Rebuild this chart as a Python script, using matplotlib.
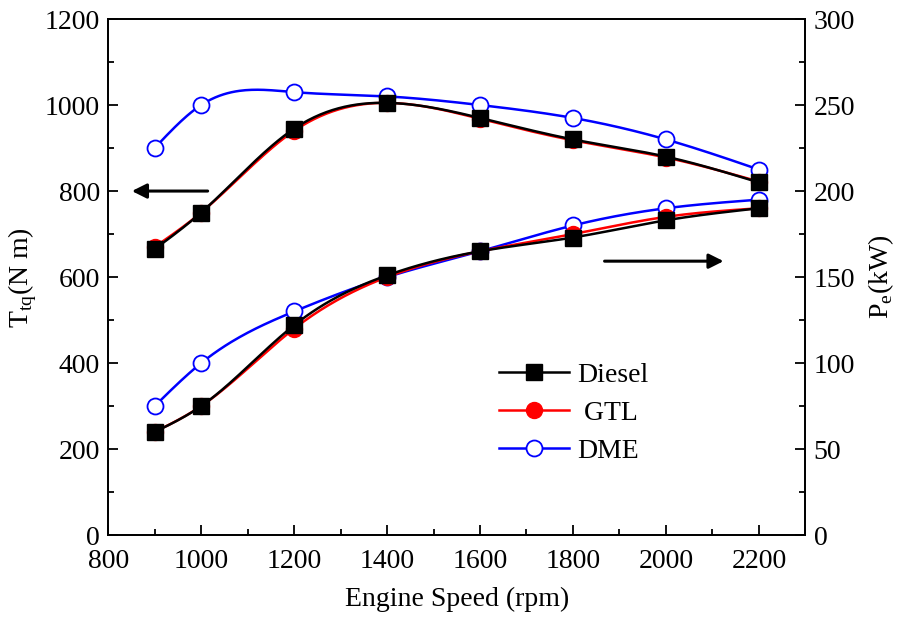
import numpy as np
import matplotlib
matplotlib.use("Agg")
import matplotlib.pyplot as plt
from matplotlib.ticker import MultipleLocator

plt.rcParams['font.family'] = ['Liberation Serif', 'DejaVu Serif']
plt.rcParams['mathtext.fontset'] = 'custom'
plt.rcParams['mathtext.rm'] = 'Liberation Serif'

speed = [900, 1000, 1200, 1400, 1600, 1800, 2000, 2200]

# torque (N m), left axis
tq_diesel = [665, 750, 945, 1005, 970, 920, 880, 820]
tq_gtl = [670, 750, 940, 1005, 968, 918, 878, 822]
tq_dme = [900, 1000, 1030, 1020, 1000, 970, 920, 850]

# power (kW), right axis
pe_diesel = [60, 75, 122, 151, 165, 173, 183, 190]
pe_gtl = [60, 75, 120, 150, 165, 175, 185, 190]
pe_dme = [75, 100, 130, 150, 165, 180, 190, 195]


def spline(x, y, n=300):
    # natural cubic spline, like Origin's smooth connect
    x = np.asarray(x, float)
    y = np.asarray(y, float)
    k = len(x)
    h = np.diff(x)
    A = np.zeros((k, k))
    r = np.zeros(k)
    A[0, 0] = A[-1, -1] = 1
    for i in range(1, k - 1):
        A[i, i - 1] = h[i - 1]
        A[i, i] = 2 * (h[i - 1] + h[i])
        A[i, i + 1] = h[i]
        r[i] = 6 * ((y[i + 1] - y[i]) / h[i] - (y[i] - y[i - 1]) / h[i - 1])
    m = np.linalg.solve(A, r)
    xs = np.linspace(x[0], x[-1], n)
    idx = np.clip(np.searchsorted(x, xs) - 1, 0, k - 2)
    x0, x1 = x[idx], x[idx + 1]
    hh = x1 - x0
    a = (x1 - xs) / hh
    b = (xs - x0) / hh
    ys = a * y[idx] + b * y[idx + 1] + ((a**3 - a) * m[idx] + (b**3 - b) * m[idx + 1]) * hh**2 / 6
    return xs, ys


fig = plt.figure(figsize=(9.09, 6.23), dpi=100)
ax = fig.add_axes([0.119, 0.141, 0.767, 0.8285])
ax2 = ax.twinx()

styles = [
    ('DME', tq_dme, pe_dme, dict(color='#0000ff', marker='o', mfc='white', mec='#0000ff', ms=11.5, mew=1.3)),
    (' GTL', tq_gtl, pe_gtl, dict(color='#ff0000', marker='o', mfc='#ff0000', mec='#ff0000', ms=11.5)),
    ('Diesel', tq_diesel, pe_diesel, dict(color='black', marker='s', mfc='black', mec='black', ms=11.5)),
]

handles = {}
for name, tq, pe, st in styles:
    c = st['color']
    xs, ys = spline(speed, tq)
    ax.plot(xs, ys, color=c, lw=1.8)
    ax.plot(speed, tq, ls='none', **{k: v for k, v in st.items() if k != 'color'})
    xs, ys = spline(speed, pe)
    ax2.plot(xs, ys, color=c, lw=1.8)
    ax2.plot(speed, pe, ls='none', **{k: v for k, v in st.items() if k != 'color'})
    handles[name] = plt.Line2D([], [], lw=1.8, **st)

ax.set_xlim(800, 2300)
ax.set_ylim(0, 1200)
ax2.set_ylim(0, 300)
ax.xaxis.set_major_locator(MultipleLocator(200))
ax.xaxis.set_minor_locator(MultipleLocator(100))
ax.yaxis.set_major_locator(MultipleLocator(200))
ax.yaxis.set_minor_locator(MultipleLocator(100))
ax2.yaxis.set_major_locator(MultipleLocator(50))
ax2.yaxis.set_minor_locator(MultipleLocator(25))

for a in (ax, ax2):
    a.tick_params(which='both', direction='in', labelsize=20, width=1.3)
    a.tick_params(which='major', length=7, pad=6)
    a.tick_params(which='minor', length=4)
    for s in a.spines.values():
        s.set_linewidth(1.3)
ax.tick_params(axis='x', which='both', top=False, pad=10)

ax.set_xlabel('Engine Speed (rpm)', fontsize=20, labelpad=9)
ax.set_ylabel(r'T$_{\mathregular{tq}}$(N m)', fontsize=20, labelpad=4)
ax2.set_ylabel(r'P$_{\mathregular{e}}$(kW)', fontsize=20, labelpad=8)

ax.annotate('', xy=(845, 800), xytext=(1020, 800),
            arrowprops=dict(arrowstyle='-|>', color='black', lw=2.2, mutation_scale=22))
ax.annotate('', xy=(2130, 637), xytext=(1862, 637),
            arrowprops=dict(arrowstyle='-|>', color='black', lw=2.2, mutation_scale=22))

leg = ax2.legend([handles['Diesel'], handles[' GTL'], handles['DME']],
                 ['Diesel', ' GTL', 'DME'], loc='upper left',
                 bbox_to_anchor=(0.525, 0.383), frameon=False, fontsize=20,
                 handlelength=2.5, labelspacing=0.45, handletextpad=0.3)

fig.savefig('out.png', dpi=100)
